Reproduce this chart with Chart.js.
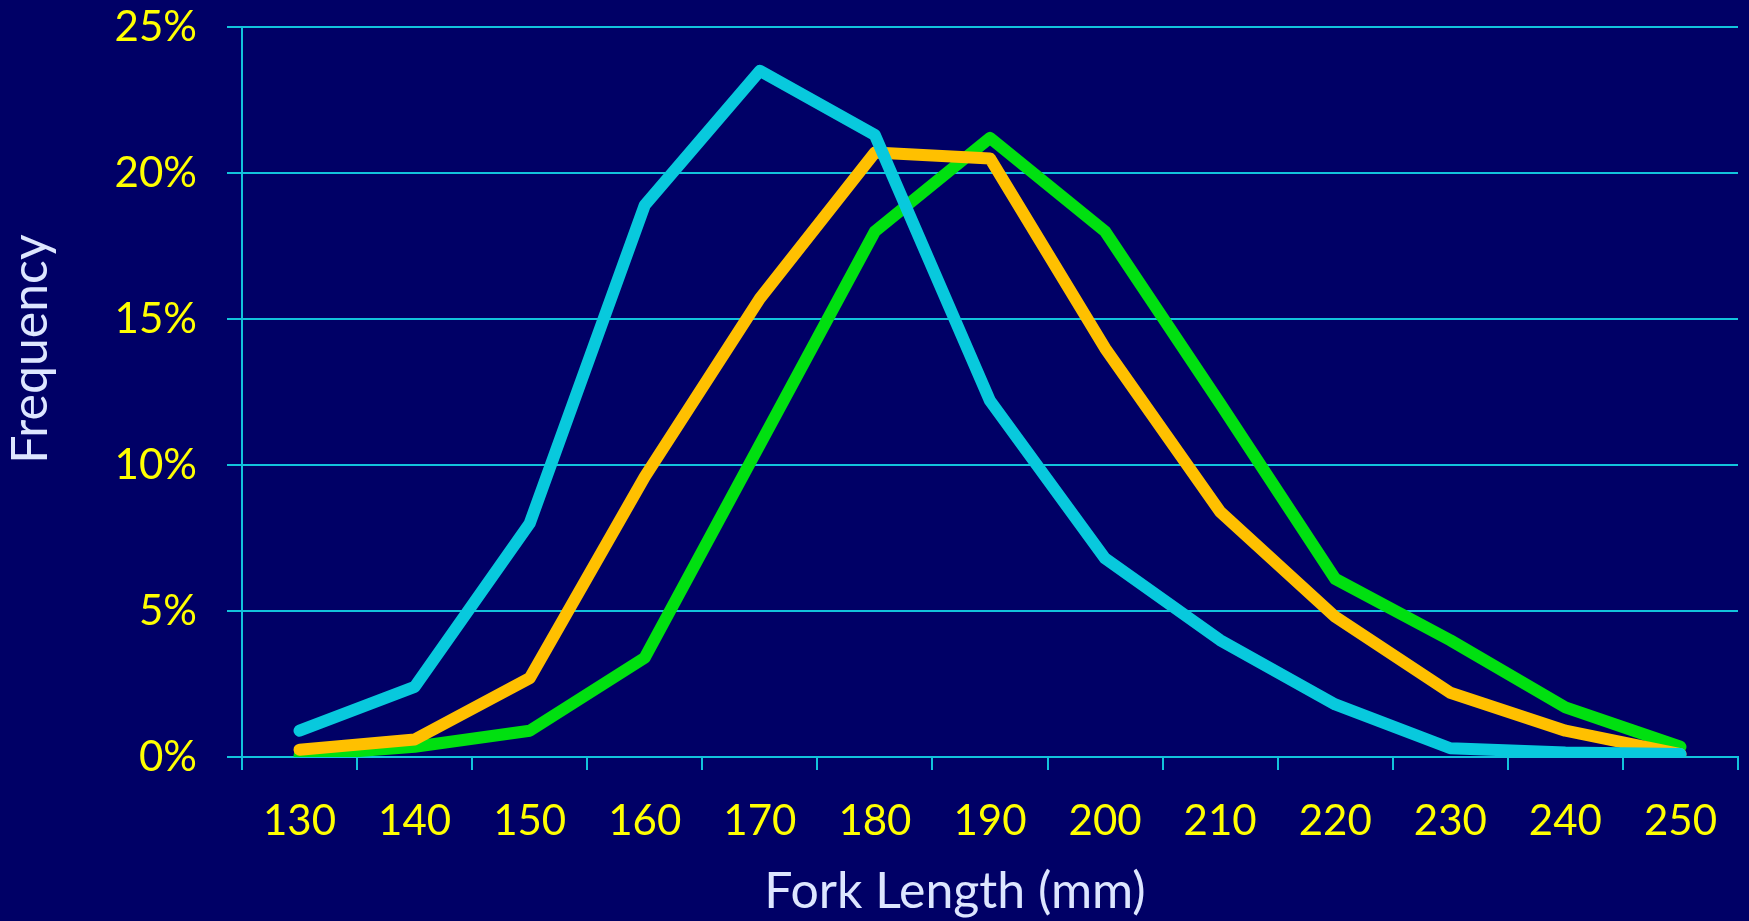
<!DOCTYPE html>
<html lang="en">
<head>
    <meta charset="UTF-8">
    <title>Fork Length Frequency</title>
    <script src="https://cdn.jsdelivr.net/npm/chart.js"></script>
    <style>
        html, body { margin: 0; padding: 0; background: #000066; }
        #wrap { width: 1749px; height: 921px; }
    </style>
</head>
<body>
    <div id="wrap"><canvas id="lenChart"></canvas></div>

    <script>
        const forkLengths = ["130", "140", "150", "160", "170", "180", "190", "200", "210", "220", "230", "240", "250"];
        const cyanSeries   = [0.9, 2.4, 8.0, 18.9, 23.5, 21.3, 12.2, 6.8, 4.0, 1.8, 0.3, 0.15, 0.1];
        const orangeSeries = [0.25, 0.6, 2.7, 9.6, 15.7, 20.7, 20.5, 14.0, 8.4, 4.8, 2.2, 0.9, 0.1];
        const greenSeries  = [0.05, 0.35, 0.9, 3.4, 10.7, 18.0, 21.2, 18.0, 12.1, 6.1, 4.0, 1.7, 0.35];
        const yTicks = [0, 5, 10, 15, 20, 25];
        const xTitle = "Fork Length (mm)";
        const yTitle = "Frequency";

        const gridColor = "#12c3dc";
        const tickFont = { family: "Lato, 'Open Sans', sans-serif", size: 42 };

        function series(data, color) {
            return {
                data: data,
                borderColor: color,
                backgroundColor: color,
                borderWidth: 12,
                borderCapStyle: "round",
                borderJoinStyle: "round",
                pointRadius: 0,
                tension: 0
            };
        }

        // axis titles sit off-centre in the original, so draw them by hand
        const axisTitles = {
            id: "axisTitles",
            afterDraw(chart) {
                const c = chart.ctx;
                c.save();
                c.fillStyle = "#dde6ff";
                c.font = "50px Lato, 'Open Sans', sans-serif";
                c.textAlign = "center";
                c.textBaseline = "middle";
                c.fillText(xTitle, 955, 892);
                c.translate(31, 349);
                c.rotate(-Math.PI / 2);
                c.fillText(yTitle, 0, 0);
                c.restore();
            }
        };

        new Chart(document.getElementById("lenChart"), {
            type: "line",
            data: {
                labels: forkLengths,
                datasets: [
                    series(cyanSeries, "#08c9dd"),
                    series(orangeSeries, "#ffc000"),
                    series(greenSeries, "#00e010")
                ]
            },
            plugins: [axisTitles],
            options: {
                responsive: true,
                maintainAspectRatio: false,
                animation: false,
                layout: { padding: { top: 27, right: 11, bottom: 0, left: 0 } },
                plugins: { legend: { display: false }, tooltip: { enabled: false } },
                scales: {
                    x: {
                        offset: true,
                        grid: { offset: true, drawOnChartArea: false, color: gridColor, lineWidth: 2, tickLength: 13 },
                        border: { color: gridColor, width: 2 },
                        ticks: { color: "#ffff00", font: tickFont, padding: 26, maxRotation: 0 },
                        afterFit: s => { s.height = 164; s.paddingLeft = 0; s.paddingRight = 0; }
                    },
                    y: {
                        min: 0,
                        max: 25,
                        afterBuildTicks: s => { s.ticks = yTicks.map(v => ({ value: v })); },
                        grid: { color: gridColor, lineWidth: 2, tickLength: 15 },
                        border: { color: gridColor, width: 2 },
                        ticks: { color: "#ffff00", font: tickFont, padding: 30, callback: v => v + "%" },
                        afterFit: s => { s.width = 242; s.paddingTop = 0; s.paddingBottom = 0; }
                    }
                }
            }
        });
    </script>
</body>
</html>
